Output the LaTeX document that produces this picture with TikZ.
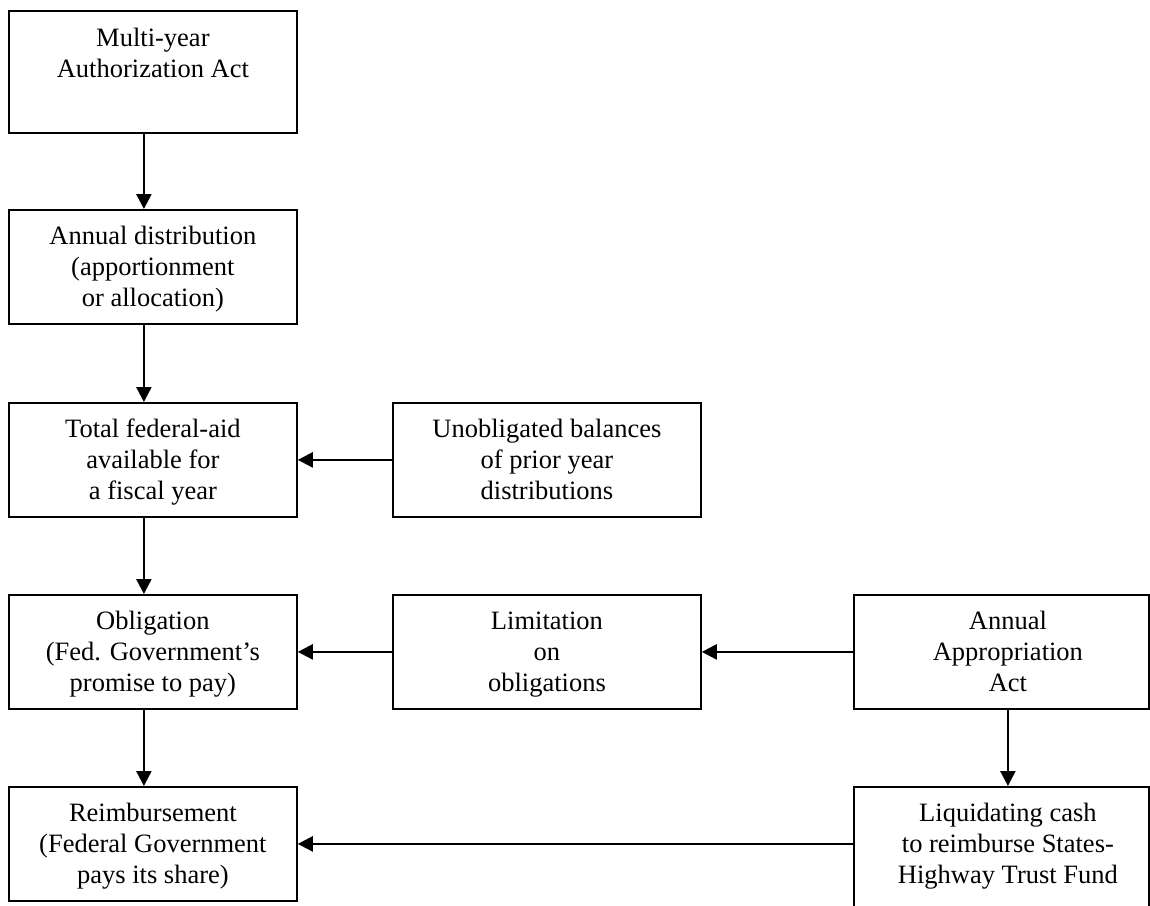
\documentclass[tikz,border=0pt]{standalone}
\usepackage{fontspec}
\setmainfont{Liberation Serif}
\usetikzlibrary{arrows.meta}
\tikzset{
  box/.style={draw=black, line width=0.9pt, rectangle, inner sep=0pt, minimum width=144pt, minimum height=57pt, anchor=north west},
  wbox/.style={box, minimum width=154pt},
  rbox/.style={box, minimum width=147.5pt},
  txt/.style={anchor=base, inner sep=0pt, font=\fontsize{13.25pt}{15.5pt}\selectfont},
  arr/.style={line width=1.2pt, -{Triangle[length=7.5pt,width=7.5pt]}}
}
\newcommand{\lines}[1]{\begin{tabular}[t]{@{}c@{}}#1\end{tabular}}
\begin{document}
\begin{tikzpicture}[x=0.5pt,y=-0.5pt]
\clip (0,0) rectangle (1150,905);
\fill[white] (0,0) rectangle (1150,905);
% left column
\node[box, minimum height=61pt] (b1) at (8,10) {};
\node[box] (b2) at (8,209) {};
\node[box] (b3) at (8,402) {};
\node[box] (b5) at (8,594) {};
\node[box] (b8) at (8,786) {};
% middle column
\node[wbox] (b4) at (392,402) {};
\node[wbox] (b6) at (392,594) {};
% right column
\node[rbox] (b7) at (853,594) {};
\node[rbox, minimum height=80pt] (b9) at (853,786) {};
% texts
\node[txt] (t1) at ([yshift=-18pt]b1.north) {\lines{Multi-year\\Authorization Act}};
\node[txt] (t2) at ([yshift=-17.5pt]b2.north) {\lines{Annual distribution\\(apportionment\\or allocation)}};
\node[txt] (t3) at ([yshift=-17.5pt]b3.north) {\lines{Total federal-aid\\available for\\a fiscal year}};
\node[txt] (t4) at ([yshift=-17.5pt]b4.north) {\lines{Unobligated balances\\of prior year\\distributions}};
\node[txt] (t5) at ([yshift=-17.5pt]b5.north) {\lines{Obligation\\(Fed. Government’s\\promise to pay)}};
\node[txt] (t6) at ([yshift=-17.5pt]b6.north) {\lines{Limitation\\on\\obligations}};
\node[txt] (t7) at ([xshift=3.25pt,yshift=-17.5pt]b7.north) {\lines{Annual\\Appropriation\\Act}};
\node[txt] (t8) at ([yshift=-17.5pt]b8.north) {\lines{Reimbursement\\(Federal Government\\pays its share)}};
\node[txt] (t9) at ([xshift=3.25pt,yshift=-17.5pt]b9.north) {\lines{Liquidating cash\\to reimburse States-\\Highway Trust Fund}};
% connectors
\draw[arr] ([xshift=-4.5pt]b1.south) -- ([xshift=-4.5pt]b2.north);
\draw[arr] ([xshift=-4.5pt]b2.south) -- ([xshift=-4.5pt]b3.north);
\draw[arr] ([xshift=-4.5pt]b3.south) -- ([xshift=-4.5pt]b5.north);
\draw[arr] ([xshift=-4.5pt]b5.south) -- ([xshift=-4.5pt]b8.north);
\draw[arr] (b4.west) -- (b3.east);
\draw[arr] (b6.west) -- (b5.east);
\draw[arr] (b7.west) -- (b6.east);
\draw[arr] ([xshift=3.25pt]b7.south) -- ([xshift=3.25pt]b9.north);
\draw[arr] (b8.east -| b9.west) -- (b8.east);
\end{tikzpicture}
\end{document}
